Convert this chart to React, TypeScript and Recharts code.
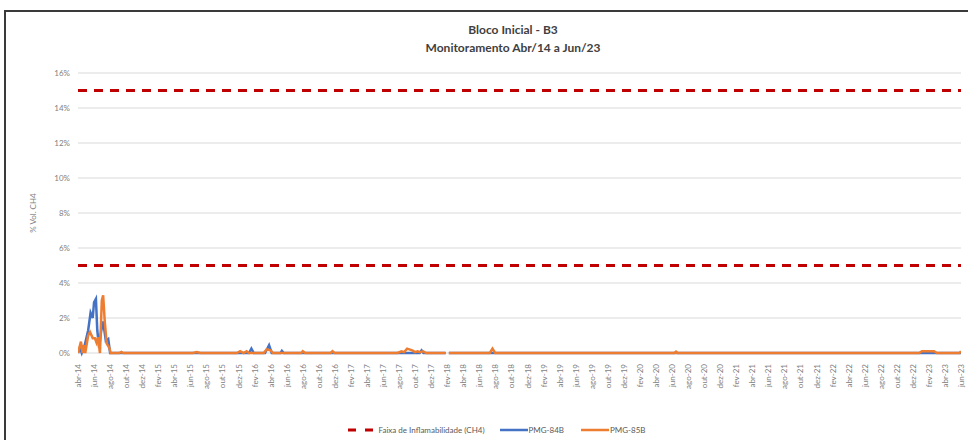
import React from "react";
import { LineChart, Line, XAxis, YAxis, CartesianGrid, ReferenceLine } from "recharts";

const monthNames = ["jan", "fev", "mar", "abr", "mai", "jun", "jul", "ago", "set", "out", "nov", "dez"];

const tickLabels = [
  "abr-14", "jun-14", "ago-14", "out-14", "dez-14",
  "fev-15", "abr-15", "jun-15", "ago-15", "out-15", "dez-15",
  "fev-16", "abr-16", "jun-16", "ago-16", "out-16", "dez-16",
  "fev-17", "abr-17", "jun-17", "ago-17", "out-17", "dez-17",
  "fev-18", "abr-18", "jun-18", "ago-18", "out-18", "dez-18",
  "fev-19", "abr-19", "jun-19", "ago-19", "out-19", "dez-19",
  "fev-20", "abr-20", "jun-20", "ago-20", "out-20", "dez-20",
  "fev-21", "abr-21", "jun-21", "ago-21", "out-21", "dez-21",
  "fev-22", "abr-22", "jun-22", "ago-22", "out-22", "dez-22",
  "fev-23", "abr-23", "jun-23",
];

const yTicks = [0, 2, 4, 6, 8, 10, 12, 14, 16];
const flammabilityLimits = [5, 15];

// PMG-84B
const dates84 = [
  "2014-04-01", "2014-04-08", "2014-04-15", "2014-04-27", "2014-05-09", "2014-05-18",
  "2014-05-26", "2014-05-31", "2014-06-08", "2014-06-13", "2014-06-20", "2014-06-27",
  "2014-07-05", "2014-07-15", "2014-07-24", "2014-07-31",
  "2016-01-10", "2016-01-19", "2016-01-28", "2016-03-10", "2016-03-25", "2016-04-05",
  "2016-05-08", "2016-05-13", "2016-05-20",
  "2017-10-18", "2017-10-25", "2017-11-02",
  "2018-01-25", "2018-02-01", "2018-02-07",
  "2023-06-01",
];
const values84: (number | null)[] = [
  0, 0.3, 0, 0.5, 1.3, 2.3,
  2.0, 2.9, 3.1, 1.3, 0.3, 1.2,
  1.8, 0.7, 0.8, 0,
  0, 0.25, 0, 0, 0.45, 0,
  0, 0.12, 0,
  0, 0.15, 0,
  0, null, 0,
  0,
];

// PMG-85B
const dates85 = [
  "2014-04-01", "2014-04-12", "2014-04-18", "2014-04-23", "2014-04-28", "2014-05-09",
  "2014-05-16", "2014-05-26", "2014-06-04", "2014-06-10", "2014-06-16", "2014-06-23",
  "2014-06-30", "2014-07-05", "2014-07-11", "2014-07-18", "2014-07-28", "2014-08-03",
  "2014-09-05", "2014-09-13", "2014-09-21",
  "2015-06-10", "2015-06-25", "2015-07-08",
  "2015-11-25", "2015-12-07", "2015-12-20", "2016-01-01", "2016-01-10",
  "2016-03-05", "2016-03-16", "2016-04-01", "2016-04-10",
  "2016-07-25", "2016-08-01", "2016-08-10",
  "2016-11-15", "2016-11-22", "2016-11-30",
  "2017-07-25", "2017-08-10", "2017-08-20", "2017-09-01", "2017-09-20", "2017-10-01",
  "2017-10-10", "2017-10-20", "2017-11-01", "2017-11-12",
  "2018-01-25", "2018-02-01", "2018-02-07",
  "2018-07-10", "2018-07-20", "2018-07-30",
  "2020-06-10", "2020-06-16", "2020-06-22",
  "2022-12-25", "2023-01-05", "2023-02-20", "2023-03-01",
  "2023-05-25", "2023-06-01",
];
const values85: (number | null)[] = [
  0, 0.65, 0, 0.45, 0, 1.0,
  1.2, 0.85, 0.85, 0.6, 0.9, 0,
  3.0, 3.3, 1.8, 0.55, 0.3, 0,
  0, 0.06, 0,
  0, 0.06, 0,
  0, 0.1, 0, 0.1, 0,
  0, 0.2, 0.15, 0,
  0, 0.1, 0,
  0, 0.1, 0,
  0, 0.1, 0.05, 0.25, 0.15, 0.05,
  0.1, 0.05, 0.1, 0,
  0, null, 0,
  0, 0.25, 0,
  0, 0.08, 0,
  0, 0.1, 0.1, 0,
  0, 0.1,
];

// months since abr-14
const dateToPos = (d: string) => {
  const [y, m, day] = d.split("-").map(Number);
  return (y - 2014) * 12 + (m - 4) + (day - 1) / 30;
};
const labelToPos = (l: string) => {
  const [mon, yy] = l.split("-");
  return (Number(yy) - 14) * 12 + monthNames.indexOf(mon) - 3;
};

const tickPositions = tickLabels.map(labelToPos);
const labelFor = (p: number) => tickLabels[tickPositions.indexOf(p)] ?? "";

const data84 = dates84.map((d, i) => ({ x: dateToPos(d), v: values84[i] }));
const data85 = dates85.map((d, i) => ({ x: dateToPos(d), v: values85[i] }));

const FONT = "Lato, 'Open Sans', sans-serif";

const XTick = ({ x, y, payload }: any) => (
  <text
    x={x}
    y={y}
    transform={`rotate(-90 ${x} ${y})`}
    textAnchor="end"
    dx={-3}
    dy={3}
    fontSize={8}
    fill="#7f7f7f"
    fontFamily={FONT}
  >
    {labelFor(payload.value)}
  </text>
);

const LegendBox = () => (
  <div
    style={{
      position: "absolute",
      left: 0,
      top: 425,
      width: 968,
      display: "flex",
      justifyContent: "center",
      alignItems: "center",
      fontFamily: FONT,
      fontSize: 8,
      color: "#595959",
      paddingLeft: 26,
      boxSizing: "border-box",
    }}
  >
    <svg width={30} height={6}>
      <line x1={0} y1={3} x2={28} y2={3} stroke="#c00000" strokeWidth={3} strokeDasharray="8 9" />
    </svg>
    <span style={{ marginRight: 15 }}>Faixa de Inflamabilidade (CH4)</span>
    <svg width={29} height={6}>
      <line x1={0} y1={3} x2={28} y2={3} stroke="#4472c4" strokeWidth={2.5} />
    </svg>
    <span style={{ marginRight: 17 }}>PMG-84B</span>
    <svg width={29} height={6}>
      <line x1={0} y1={3} x2={28} y2={3} stroke="#ed7d31" strokeWidth={2.5} />
    </svg>
    <span>PMG-85B</span>
  </div>
);

export default function App() {
  return (
    <div
      style={{
        position: "absolute",
        left: 0,
        top: 0,
        width: 968,
        height: 440,
        overflow: "hidden",
        background: "#fff",
      }}
    >
      <div
        style={{
          position: "absolute",
          left: 4,
          top: 10,
          width: 1000,
          height: 500,
          border: "2px solid #3a3a3a",
        }}
      />
      <div
        style={{
          position: "absolute",
          left: 313,
          width: 400,
          top: 21,
          textAlign: "center",
          fontFamily: FONT,
          fontWeight: 700,
          fontSize: 12,
          lineHeight: "18px",
          color: "#404040",
        }}
      >
        <div>Bloco Inicial - B3</div>
        <div>Monitoramento Abr/14 a Jun/23</div>
      </div>
      <div style={{ position: "absolute", left: 0, top: 0 }}>
        <LineChart width={968} height={440} margin={{ top: 73, right: 7, left: 0, bottom: 47 }}>
          <CartesianGrid vertical={false} stroke="#d9d9d9" strokeWidth={1} />
          <XAxis
            type="number"
            dataKey="x"
            domain={[0, 110]}
            ticks={tickPositions}
            interval={0}
            tick={<XTick />}
            tickLine={false}
            axisLine={false}
            height={40}
            allowDataOverflow
          />
          <YAxis
            domain={[0, 16]}
            ticks={yTicks}
            tickFormatter={(v) => `${v}%`}
            tick={{ fontSize: 8, fill: "#7f7f7f", fontFamily: FONT }}
            tickLine={false}
            axisLine={false}
            width={78}
            label={{
              content: (p: any) => {
                const cy = p.viewBox.y + p.viewBox.height / 2;
                return (
                  <text
                    x={36}
                    y={cy}
                    transform={`rotate(-90 36 ${cy})`}
                    textAnchor="middle"
                    fontSize={8}
                    fill="#7f7f7f"
                    fontFamily={FONT}
                  >
                    % Vol. CH4
                  </text>
                );
              },
            }}
          />
          {flammabilityLimits.map((v) => (
            <ReferenceLine key={v} y={v} stroke="#c00000" strokeWidth={3} strokeDasharray="9 7" />
          ))}
          <Line
            data={data84}
            dataKey="v"
            name="PMG-84B"
            type="linear"
            stroke="#4472c4"
            strokeWidth={2.5}
            dot={false}
            isAnimationActive={false}
          />
          <Line
            data={data85}
            dataKey="v"
            name="PMG-85B"
            type="linear"
            stroke="#ed7d31"
            strokeWidth={2.5}
            dot={false}
            isAnimationActive={false}
          />
        </LineChart>
      </div>
      <LegendBox />
    </div>
  );
}
